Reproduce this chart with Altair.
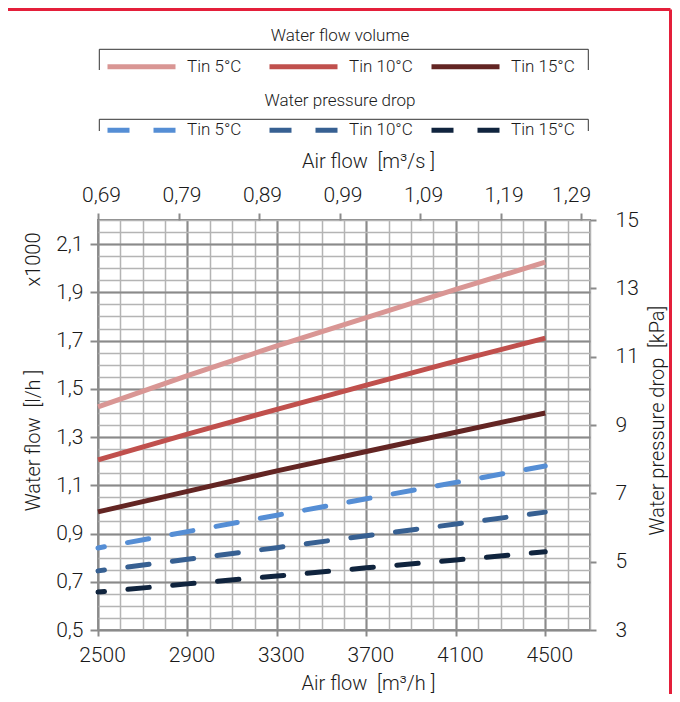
import altair as alt
import pandas as pd

# ---------------- data ----------------
air_flow = [2500, 2900, 3300, 3700, 4100, 4500]          # m3/h
series = ["Tin 5°C", "Tin 10°C", "Tin 15°C"]

flow_tin5 = [1.425, 1.555, 1.678, 1.795, 1.912, 2.025]   # x1000 l/h
flow_tin10 = [1.205, 1.312, 1.415, 1.515, 1.615, 1.710]
flow_tin15 = [0.990, 1.075, 1.160, 1.240, 1.320, 1.400]

dp_tin5 = [5.40, 5.88, 6.36, 6.84, 7.32, 7.80]           # kPa
dp_tin10 = [4.73, 5.07, 5.41, 5.76, 6.10, 6.45]
dp_tin15 = [4.11, 4.35, 4.58, 4.82, 5.05, 5.29]

flow_colors = ["#D99694", "#C0504D", "#632523"]
dp_colors = ["#558ED5", "#376092", "#10243E"]

x_ticks = [2500, 2900, 3300, 3700, 4100, 4500]
x_minor = list(range(2500, 4701, 100))
x_top_ticks = [2500, 2860, 3220, 3580, 3940, 4300, 4660]   # 0.1 m3/s steps
y_ticks = [0.5, 0.7, 0.9, 1.1, 1.3, 1.5, 1.7, 1.9, 2.1]
y_minor = [round(0.5 + 0.05 * i, 2) for i in range(35)]
dp_ticks = [3, 5, 7, 9, 11, 13, 15]

flow_df = pd.DataFrame({
    "air": air_flow * 3,
    "value": flow_tin5 + flow_tin10 + flow_tin15,
    "series": [s for s in series for _ in air_flow],
})
dp_df = pd.DataFrame({
    "air": air_flow * 3,
    "value": dp_tin5 + dp_tin10 + dp_tin15,
    "series": [s for s in series for _ in air_flow],
})
one = pd.DataFrame({"k": [0]})

# ---------------- styling ----------------
FONT = "Roboto"
MINOR = "#b4b4b4"
MAJOR = "#8a8a8a"
TXT = "#1a1a1a"
RED = "#e41f3a"
SP = "\u00a0"

x_scale = alt.Scale(domain=[2500, 4700], nice=False, zero=False)
flow_scale = alt.Scale(domain=[0.5, 2.2], nice=False, zero=False)
dp_scale = alt.Scale(domain=[3, 15], nice=False, zero=False)

comma1 = "replace(format(datum.value, '.1f'), '.', ',')"
top_lbl = "replace(format(datum.value / 3600, '.2f'), '.', ',')"

legend_common = dict(
    orient="none", direction="horizontal", columns=3, gridAlign="all",
    columnPadding=8, symbolType="stroke", symbolSize=4624, symbolStrokeWidth=5,
    labelOffset=9, labelFontSize=17, labelFont=FONT, labelColor=TXT,
    labelFontWeight=300,
    titleFontSize=17, titleFont=FONT, titleColor=TXT, titleFontWeight=300,
    titleAnchor="middle", titleAlign="center", padding=0, legendX=7,
)

# minor grid layer (also carries the "x1000" note)
grid = alt.Chart(flow_df).mark_point(opacity=0).encode(
    x=alt.X("air:Q", scale=x_scale, axis=alt.Axis(
        orient="bottom", values=x_minor, grid=True, gridColor=MINOR, gridWidth=1.5,
        labels=False, ticks=False, domain=False, title=None)),
    y=alt.Y("value:Q", scale=flow_scale, axis=alt.Axis(
        orient="left", values=y_minor, grid=True, gridColor=MINOR, gridWidth=1.5,
        labels=False, ticks=False, domain=False, title="x1000",
        titleX=-65, titleY=39, titleAngle=270, titleAlign="center",
        titleBaseline="middle", titleFontSize=20)),
)

flow = alt.Chart(flow_df).mark_line(strokeWidth=5).encode(
    x=alt.X("air:Q", scale=x_scale, axis=alt.Axis(
        orient="bottom", values=x_ticks, format="d", labelFlush=False,
        grid=True, gridColor=MAJOR, gridWidth=2,
        domain=False, tickSize=6, tickColor=MAJOR, tickWidth=2,
        labelFontSize=21, labelPadding=8, labelOffset=4,
        title=f"Air flow{SP}{SP}[m³/h{SP}]", titleX=270, titleY=53, titleAlign="center",
        titleBaseline="middle", titleFontSize=20)),
    y=alt.Y("value:Q", scale=flow_scale, axis=alt.Axis(
        orient="left", values=y_ticks, labelExpr=comma1, grid=True, gridColor=MAJOR,
        gridWidth=2, domain=False, tickSize=8, tickColor=MAJOR, tickWidth=2,
        labelFontSize=21, labelPadding=7,
        title=f"Water flow{SP}{SP}[l/h{SP}]", titleX=-65, titleY=220, titleAngle=270,
        titleAlign="center", titleBaseline="middle", titleFontSize=20)),
    color=alt.Color("series:N", scale=alt.Scale(domain=series, range=flow_colors),
                    legend=alt.Legend(title="Water flow volume", legendY=-192,
                                      titlePadding=-15, **legend_common)),
)

dp = alt.Chart(dp_df).mark_line(strokeWidth=5, strokeCap="round",
                                strokeDash=[21.5, 23.5], strokeDashOffset=15).encode(
    x=alt.X("air:Q", scale=x_scale, axis=alt.Axis(
        orient="top", values=x_top_ticks, labelExpr=top_lbl, labelFlush=False,
        labelOffset={"condition": {"test": "datum.value > 4600", "value": -10}, "value": 3},
        grid=False, domain=False, tickSize=7, tickColor=MAJOR, tickWidth=2,
        labelFontSize=21, labelPadding=8,
        title=f"Air flow{SP}{SP}[m³/s{SP}]", titleX=270, titleY=-59, titleAlign="center",
        titleBaseline="middle", titleFontSize=20)),
    y=alt.Y("value:Q", scale=dp_scale, axis=alt.Axis(
        orient="right", values=dp_ticks, grid=False, domain=False,
        tickSize=6, tickColor=MAJOR, tickWidth=2, labelFontSize=21, labelPadding=19,
        title=f"Water pressure drop{SP}{SP}[kPa]", titleX=67, titleY=200, titleAngle=270,
        titleAlign="center", titleBaseline="middle", titleFontSize=20)),
    color=alt.Color("series:N", scale=alt.Scale(domain=series, range=dp_colors),
                    legend=alt.Legend(title="Water pressure drop", legendY=-127.5,
                                      titlePadding=-16, symbolDash=[22, 24],
                                      **legend_common)),
)


def hrule(x1, x2, y, color, w):
    return alt.Chart(one).mark_rule(color=color, strokeWidth=w).encode(
        x=alt.value(x1), x2=alt.value(x2), y=alt.value(y))


def vrule(x, y1, y2, color, w):
    return alt.Chart(one).mark_rule(color=color, strokeWidth=w).encode(
        x=alt.value(x), y=alt.value(y1), y2=alt.value(y2))


decor = [
    # legend brackets
    hrule(1.3, 490.3, -170.7, "#333333", 1), vrule(1.3, -170.7, -150, "#333333", 1),
    vrule(490.3, -170.7, -150, "#333333", 1),
    hrule(1.3, 490.3, -100.7, "#333333", 1), vrule(1.3, -100.7, -89, "#333333", 1),
    vrule(490.3, -100.7, -89, "#333333", 1),
    # red frame
    hrule(-96.5, 572.5, -210.5, RED, 3), vrule(-96.5, -210.5, 480, RED, 3),
    vrule(572.5, -210.5, 480, RED, 3),
]

chart = alt.layer(grid, flow, dp, *decor).resolve_scale(
    y="independent", color="independent"
).resolve_axis(
    x="independent", y="independent"
).properties(
    width=492, height=410,
    autosize=alt.AutoSizeParams(type="none"),
    padding={"left": 90, "top": 212, "right": 82, "bottom": 64},
).configure_axis(
    labelFont=FONT, titleFont=FONT, labelColor=TXT, titleColor=TXT,
    titleFontWeight=300, labelFontWeight=300,
).configure_view(stroke=MAJOR, strokeWidth=2)

chart.save("out.html", embed_options={"renderer": "svg", "actions": False})
